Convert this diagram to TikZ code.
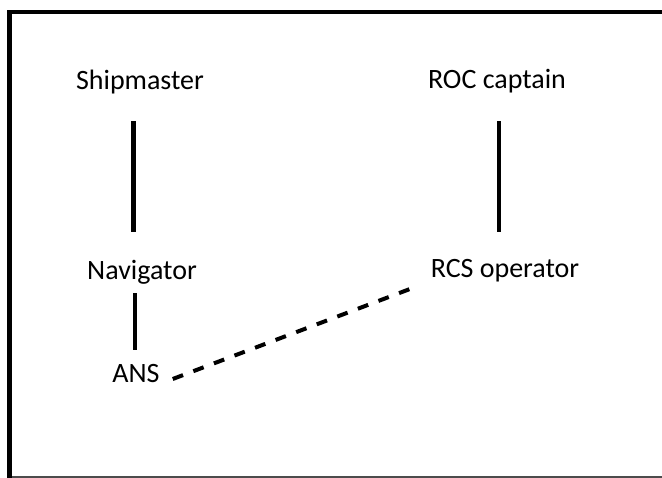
\documentclass[tikz,border=0pt]{standalone}
\usepackage{fontspec}
\setmainfont{Carlito}
\begin{document}
\begin{tikzpicture}[x=1pt,y=-1pt,
  role/.style={anchor=base,inner sep=0pt,text height=18pt,text depth=6pt,
    font=\fontsize{28}{34}\selectfont},
  link/.style={line width=4.5pt},
  remote/.style={line width=4pt,dash pattern=on 11pt off 11pt}]
  \useasboundingbox (0,0) rectangle (662,478);
  % frame
  \fill[black] (7,10) rectangle (12,478);
  \fill[black] (7,10) rectangle (662,14);
  \draw[line width=1.5pt,black!70] (12,477) -- (662,477);
  % roles
  \node[role] (ship) at (140,90) {Shipmaster};
  \node[role] (roc)  at (497,89) {ROC captain};
  \node[role] (nav)  at (142,280) {Navigator};
  \node[role] (rcs)  at (505,278) {RCS operator};
  \node[role] (ans)  at (136,383) {ANS};
  % connections
  \draw[link] ([xshift=-6.3pt,yshift=-25pt]ship.south) -- ([xshift=-8.3pt,yshift=30pt]nav.north);
  \draw[link] ([xshift=2pt,yshift=-26pt]roc.south) -- ([xshift=-6pt,yshift=28pt]rcs.north);
  \draw[link] ([xshift=-7pt,yshift=-7pt]nav.south) -- ([xshift=-1pt,yshift=15pt]ans.north);
  \draw[remote] ([xshift=13pt,yshift=-2pt]ans.east) -- ([xshift=-18pt,yshift=-16pt]rcs.west);
\end{tikzpicture}
\end{document}
